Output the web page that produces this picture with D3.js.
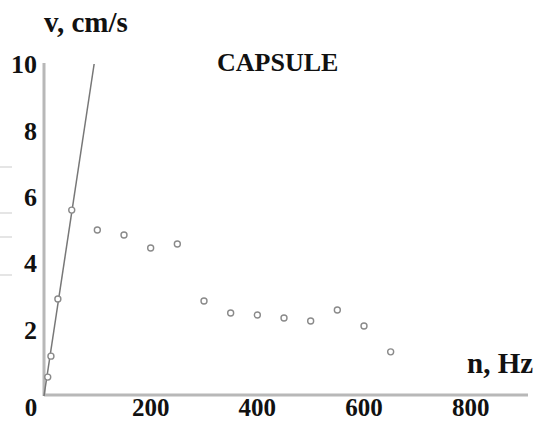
<!DOCTYPE html>
<html>
<head>
<meta charset="utf-8">
<script src="https://cdn.jsdelivr.net/npm/d3@7"></script>
<style>
  html, body { margin: 0; padding: 0; background: #fff; }
  svg { display: block; }
  text { font-family: "Liberation Serif", "Times New Roman", serif; font-weight: bold; fill: #111; }
</style>
</head>
<body>
<svg id="chart" width="536" height="422"></svg>
<script>
// Measured velocity of the capsule vs. driving frequency
const freqHz   = [7, 13, 26, 52, 100, 150, 200, 250, 300, 350, 400, 450, 500, 550, 600, 650];
const velocity = [0.57, 1.2, 2.92, 5.6, 5.0, 4.85, 4.46, 4.58, 2.86, 2.5, 2.44, 2.35, 2.26, 2.59, 2.11, 1.33];

// Low-frequency linear fit through the origin
const fitFreq = [0, 94];
const fitVel  = [0, 10];

const xTicks = [200, 400, 600, 800];
const yTicks = [2, 4, 6, 8, 10];

const svg = d3.select("#chart");

const x = d3.scaleLinear().domain([0, 900]).range([44, 524]);
const y = d3.scaleLinear().domain([0, 10]).range([396, 64]);

// faint stray strokes along the left margin
const stray = [167, 213, 237, 275];
svg.selectAll("line.stray").data(stray).join("line")
  .attr("x1", 0).attr("x2", 12)
  .attr("y1", d => d).attr("y2", d => d)
  .attr("stroke", "#ddd").attr("stroke-width", 1.5);

// axes as plain lines
svg.append("line")
  .attr("x1", x(0)).attr("x2", x(0))
  .attr("y1", y(0)).attr("y2", y(10) - 1)
  .attr("stroke", "#b8b8b8").attr("stroke-width", 3);
svg.append("line")
  .attr("x1", x(0)).attr("x2", 528)
  .attr("y1", y(0) - 1).attr("y2", y(0) - 1)
  .attr("stroke", "#b8b8b8").attr("stroke-width", 3);

// tick labels
svg.selectAll("text.yt").data(yTicks).join("text")
  .attr("class", "yt")
  .attr("x", 37).attr("y", d => y(d))
  .attr("dy", "0.35em")
  .attr("text-anchor", "end")
  .attr("font-size", 26)
  .text(d => d);
svg.selectAll("text.xt").data(xTicks).join("text")
  .attr("class", "xt")
  .attr("x", d => x(d)).attr("y", 416)
  .attr("text-anchor", "middle")
  .attr("font-size", 25)
  .text(d => d);
svg.append("text")
  .attr("x", 31).attr("y", 416)
  .attr("text-anchor", "middle")
  .attr("font-size", 25)
  .text("0");

// axis titles and chart title
svg.append("text").attr("x", 44).attr("y", 32).attr("font-size", 29).text("v, cm/s");
svg.append("text").attr("x", 217).attr("y", 71).attr("font-size", 26).text("CAPSULE");
svg.append("text").attr("x", 467).attr("y", 373).attr("font-size", 29).text("n, Hz");

// linear fit
svg.append("path")
  .datum(fitFreq.map((f, i) => [f, fitVel[i]]))
  .attr("d", d3.line().x(d => x(d[0])).y(d => y(d[1])))
  .attr("fill", "none")
  .attr("stroke", "#777")
  .attr("stroke-width", 1.5);

// data points
svg.selectAll("circle.pt").data(freqHz).join("circle")
  .attr("class", "pt")
  .attr("cx", d => x(d))
  .attr("cy", (d, i) => y(velocity[i]))
  .attr("r", 3)
  .attr("fill", "#fff")
  .attr("stroke", "#8a8a8a")
  .attr("stroke-width", 1.4);
</script>
</body>
</html>
